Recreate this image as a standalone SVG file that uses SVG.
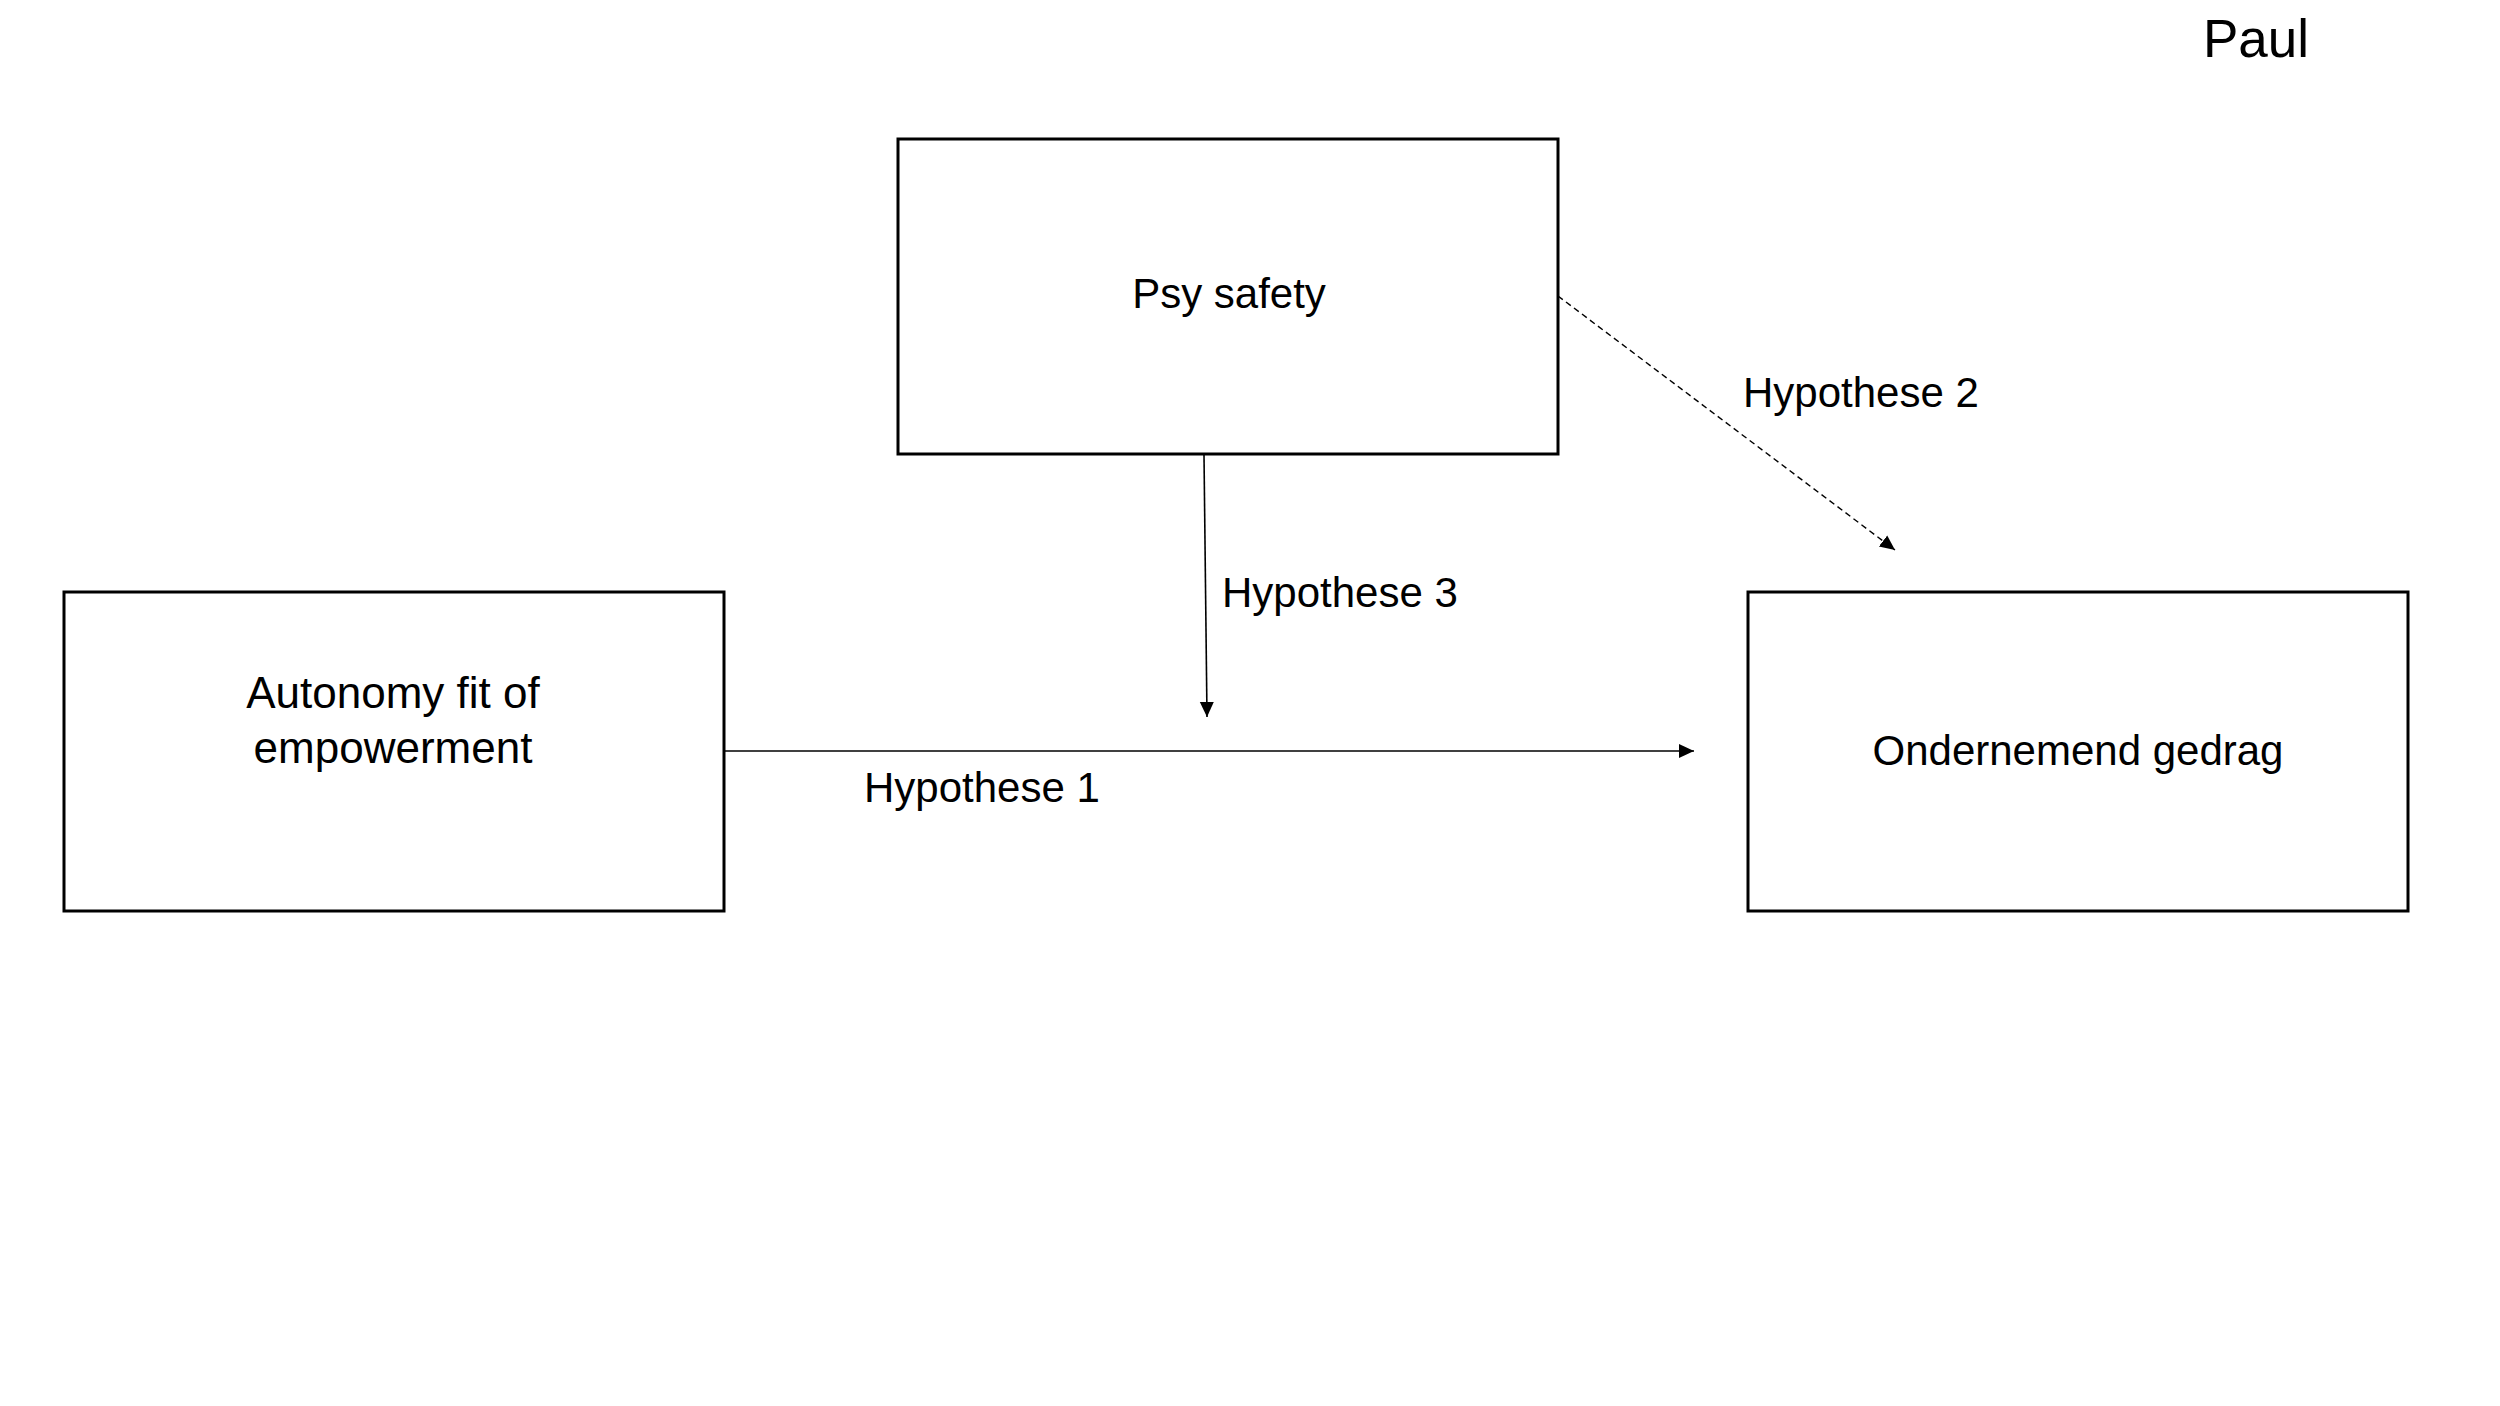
<svg xmlns="http://www.w3.org/2000/svg" width="2500" height="1406" viewBox="0 0 2500 1406">
<style>
.box{fill:#ffffff;stroke:#000000;stroke-width:3}
.t{font-family:"Liberation Sans",Arial,sans-serif;font-size:42px;fill:#000000}
.c{text-anchor:middle}
.ln{fill:none;stroke:#000000;stroke-width:1.6}
.dash{stroke-dasharray:6 4;stroke-width:1.4}
</style>
<defs>
<marker id="arr" markerUnits="userSpaceOnUse" markerWidth="16" markerHeight="16" viewBox="0 0 16 16" refX="15" refY="8" orient="auto">
<path d="M0,1 L15,8 L0,15 Z" fill="#000000"/>
</marker>
</defs>
<rect width="2500" height="1406" fill="#ffffff"/>
<text class="t" x="2203" y="57" style="font-size:53px">Paul</text>
<g id="connectors">
<line class="ln" x1="724" y1="751" x2="1694" y2="751" marker-end="url(#arr)"/>
<line class="ln" x1="1204" y1="455" x2="1207" y2="717" marker-end="url(#arr)"/>
<line class="ln dash" x1="1558" y1="296" x2="1895" y2="550" marker-end="url(#arr)"/>
<text class="t" x="864" y="802">Hypothese 1</text>
<text class="t" x="1743" y="407">Hypothese 2</text>
<text class="t" x="1222" y="607">Hypothese 3</text>
</g>
<g id="node-psy">
<rect class="box" x="898" y="139" width="660" height="315"/>
<text class="t c" x="1229" y="308">Psy safety</text>
</g>
<g id="node-autonomy">
<rect class="box" x="64" y="592" width="660" height="319"/>
<text class="t c" x="393" y="708" style="font-size:44px">Autonomy fit of</text>
<text class="t c" x="393" y="763" style="font-size:44px">empowerment</text>
</g>
<g id="node-ondernemend">
<rect class="box" x="1748" y="592" width="660" height="319"/>
<text class="t c" x="2078" y="765">Ondernemend gedrag</text>
</g>
</svg>
